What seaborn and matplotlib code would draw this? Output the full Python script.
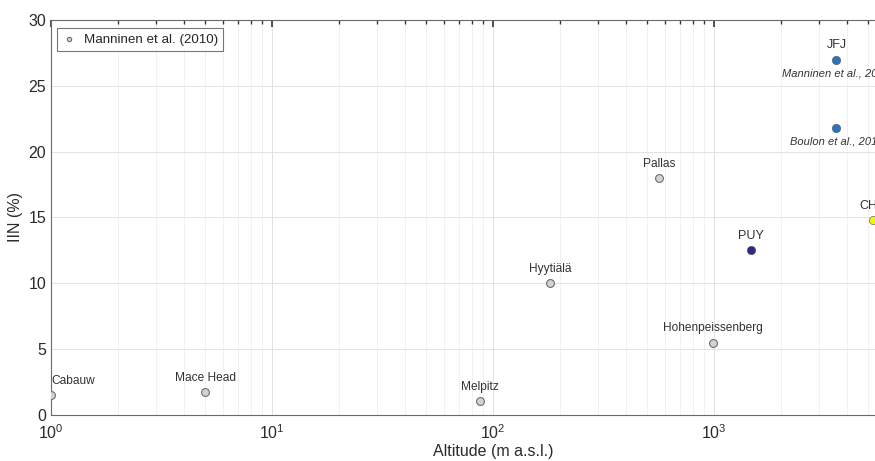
import pandas as pd
import matplotlib.pyplot as plt
import seaborn as sns

# station data
stations = ['Cabauw', 'Mace Head', 'Melpitz', 'Hyytiälä', 'Pallas', 'Hohenpeissenberg']
altitude = [1, 5, 87, 181, 565, 985]
iin = [1.5, 1.75, 1.05, 10.0, 18.0, 5.5]

# highlighted sites
site_names = ['JFJ', 'JFJ', 'PUY', 'CHC']
site_alt = [3580, 3580, 1465, 5240]
site_iin = [27.0, 21.8, 12.5, 14.8]
site_refs = ['Manninen et al., 2010', 'Boulon et al., 2010', '', '']
site_colors = ['#2677bd', '#2677bd', '#2a2a82', '#f2f21a']

df = pd.DataFrame({'station': stations, 'altitude': altitude, 'iin': iin})
sites = pd.DataFrame({'name': site_names, 'altitude': site_alt, 'iin': site_iin,
                      'ref': site_refs, 'color': site_colors})

sns.set_theme(style="white")
plt.rcParams['font.family'] = ['Liberation Sans', 'DejaVu Sans']

fig = plt.figure(figsize=(8.75, 4.61), dpi=100)
# axes run past the right edge like the cropped original
ax = fig.add_axes([0.0583, 0.0998, 1.0103, 0.8568])

sns.scatterplot(data=df, x='altitude', y='iin', ax=ax, s=32, color='#d2d2d2',
                edgecolor='#6e6e6e', linewidth=0.8, label='Manninen et al. (2010)', zorder=3)
for _, r in sites.iterrows():
    ax.scatter(r['altitude'], r['iin'], s=36, color=r['color'], edgecolor='#505050',
               linewidth=0.4, zorder=3)

ax.set_xscale('log')
ax.set_xlim(1, 1e4)
ax.set_ylim(0, 30)

for _, r in df.iterrows():
    ha = 'left' if r['station'] == 'Cabauw' else 'center'
    ax.annotate(r['station'], (r['altitude'], r['iin']), xytext=(0, 6),
                textcoords='offset points', ha=ha, va='bottom', fontsize=8.6, color='#333333')

shown = set()
for _, r in sites.iterrows():
    if r['name'] not in shown:
        ax.annotate(r['name'], (r['altitude'], r['iin']), xytext=(0, 6),
                    textcoords='offset points', ha='center', va='bottom', fontsize=9,
                    color='#333333')
        shown.add(r['name'])
    if r['ref']:
        ax.annotate(r['ref'], (r['altitude'], r['iin']), xytext=(0, -6.5),
                    textcoords='offset points', ha='center', va='top', fontsize=8,
                    style='italic', color='#333333')

ax.grid(True, which='major', color='#e2e2e2', linewidth=0.7)
ax.grid(True, which='minor', color='#efefef', linewidth=0.6)
ax.set_axisbelow(True)
for s in ax.spines.values():
    s.set_color('#6a6a6a')
    s.set_linewidth(0.8)
ax.tick_params(which='both', direction='in', top=True, right=True, colors='#3a3a3a',
               labelsize=11.5, labelcolor='#2a2a2a')
ax.tick_params(which='major', length=5)
ax.tick_params(which='minor', length=3)
ax.tick_params(axis='x', pad=6)
ax.set_yticks([0, 5, 10, 15, 20, 25, 30])

ax.set_xlabel('Altitude (m a.s.l.)', fontsize=11.5, color='#2a2a2a', labelpad=1.5)
ax.set_ylabel('IIN (%)', fontsize=11.5, color='#2a2a2a', labelpad=4)

leg = ax.legend(loc='upper left', fontsize=9.6, frameon=True, fancybox=False,
                edgecolor='#555555', borderpad=0.4, handletextpad=0.6, handlelength=1.0,
                markerscale=0.55, borderaxespad=0, bbox_to_anchor=(0.0068, 0.98))
leg.get_frame().set_linewidth(0.8)

plt.savefig('out.png', dpi=100)
